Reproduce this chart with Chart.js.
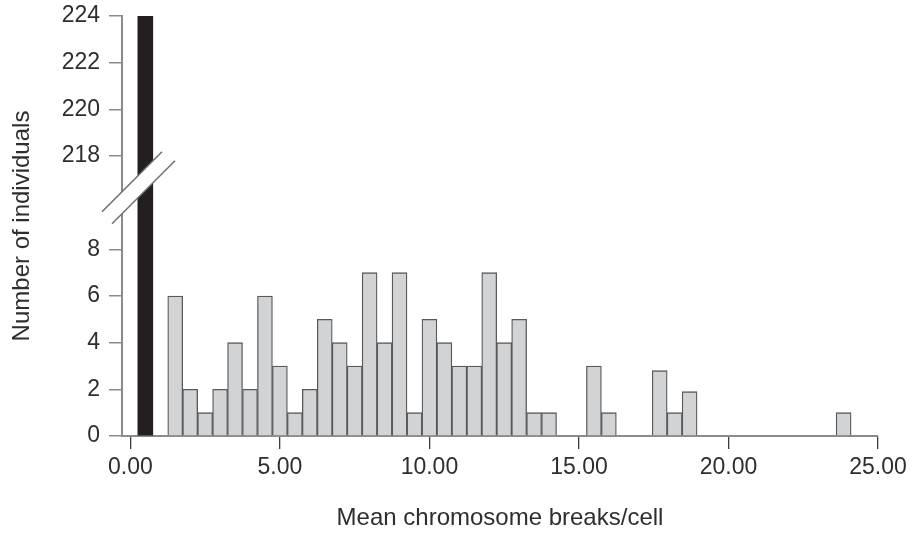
<!DOCTYPE html>
<html>
<head>
<meta charset="utf-8">
<title>Mean chromosome breaks per cell</title>
<script src="https://cdn.jsdelivr.net/npm/chart.js@4.4.1/dist/chart.umd.min.js"></script>
<style>
  html, body { margin: 0; padding: 0; background: #fff; }
  #wrap { width: 913px; height: 535px; }
</style>
</head>
<body>
<div id="wrap"><canvas id="myChart"></canvas></div>
<script>
// individuals with no breaks (black bar)
const zeroBinX = [0.5];
const zeroBinCount = [224];

// the rest of the histogram, bin centre -> number of individuals
const binX = [1.5, 2.0, 2.5, 3.0, 3.5, 4.0, 4.5, 5.0, 5.5, 6.0, 6.5, 7.0, 7.5, 8.0, 8.5,
              9.0, 9.5, 10.0, 10.5, 11.0, 11.5, 12.0, 12.5, 13.0, 13.5, 14.0,
              15.5, 16.0, 17.7, 18.2, 18.7, 23.85];
const binCount = [6, 2, 1, 2, 4, 2, 6, 3, 1, 2, 5, 4, 3, 7, 4,
                  7, 1, 5, 4, 3, 3, 7, 4, 5, 1, 1,
                  3, 1, 2.8, 1, 1.9, 1];

const xTicks = [0, 5, 10, 15, 20, 25];
const yTicks = [0, 2, 4, 6, 8, 218, 220, 222, 224];
const axisBreak = [10, 216]; // y values between these are cut out

const axisGrey = '#8a8b8d';
const textColor = '#2e2e2e';

Chart.defaults.font.family = "'Liberation Sans', Arial, sans-serif";
Chart.defaults.font.size = 23;
Chart.defaults.color = textColor;

// linear scale with a gap in it
class BrokenLinearScale extends Chart.LinearScale {
  toVirtual(v) {
    const lo = axisBreak[0], hi = axisBreak[1];
    if (v === null || v === undefined) return v;
    if (v <= lo) return v;
    if (v >= hi) return v - (hi - lo);
    return lo;
  }
  determineDataLimits() {
    super.determineDataLimits();
    this.min = this.toVirtual(this.min);
    this.max = this.toVirtual(this.max);
  }
  buildTicks() {
    return yTicks.map(v => ({ value: v }));
  }
  getPixelForValue(v) {
    return super.getPixelForValue(this.toVirtual(v));
  }
}
BrokenLinearScale.id = 'brokenLinear';
BrokenLinearScale.defaults = Chart.LinearScale.defaults;
Chart.register(BrokenLinearScale);

// the "//" marks where the axis is cut
const breakMarks = {
  id: 'breakMarks',
  afterDraw(chart) {
    const ctx = chart.ctx;
    const cx = chart.scales.x.left;
    const cy = chart.scales.y.getPixelForValue(axisBreak[0]);
    const gap = 11;
    const a1 = [cx - 20, cy - gap + 20], b1 = [cx + 40, cy - gap - 40];
    const a2 = [cx - 10, cy + gap + 10], b2 = [cx + 53, cy + gap - 53];
    ctx.save();
    ctx.fillStyle = '#fff';
    ctx.beginPath();
    ctx.moveTo(a1[0], a1[1]);
    ctx.lineTo(b1[0], b1[1]);
    ctx.lineTo(b2[0], b2[1]);
    ctx.lineTo(a2[0], a2[1]);
    ctx.closePath();
    ctx.fill();
    ctx.strokeStyle = '#6d6e71';
    ctx.lineWidth = 1.5;
    ctx.beginPath();
    ctx.moveTo(a1[0], a1[1]);
    ctx.lineTo(b1[0], b1[1]);
    ctx.moveTo(a2[0], a2[1]);
    ctx.lineTo(b2[0], b2[1]);
    ctx.stroke();
    ctx.restore();
  }
};

const ctx = document.getElementById('myChart').getContext('2d');

const myChart = new Chart(ctx, {
  type: 'bar',
  data: {
    datasets: [{
      label: 'No breaks',
      data: zeroBinX.map((x, i) => ({ x: x, y: zeroBinCount[i] })),
      backgroundColor: '#231f20',
      borderWidth: 0,
      grouped: false,
      barPercentage: 1,
      categoryPercentage: 1
    }, {
      label: 'Individuals',
      data: binX.map((x, i) => ({ x: x, y: binCount[i] })),
      backgroundColor: '#d1d3d4',
      borderColor: '#58595b',
      borderWidth: 1.3,
      grouped: false,
      barPercentage: 1,
      categoryPercentage: 1
    }]
  },
  options: {
    responsive: true,
    maintainAspectRatio: false,
    animation: false,
    layout: { padding: { top: 16, right: 35, bottom: 0, left: 0 } },
    plugins: {
      legend: { display: false },
      tooltip: { enabled: false }
    },
    scales: {
      x: {
        type: 'linear',
        position: 'bottom',
        min: -0.28,
        max: 25,
        offset: false,
        z: 1,
        afterBuildTicks: s => { s.ticks = xTicks.map(v => ({ value: v })); },
        border: { color: axisGrey, width: 2 },
        grid: { offset: false, drawOnChartArea: false, tickLength: 13, color: '#3c3c3c', lineWidth: 1.3 },
        ticks: { padding: 5, autoSkip: false, maxRotation: 0, callback: v => v.toFixed(2) },
        title: {
          display: true,
          text: 'Mean chromosome breaks/cell',
          font: { size: 24 },
          padding: { top: 17, bottom: 2.6 }
        }
      },
      y: {
        type: 'brokenLinear',
        min: 0,
        max: 224,
        afterFit: s => { s.width = 122; s.paddingTop = 0; s.paddingBottom = 0; },
        border: { color: axisGrey, width: 2 },
        grid: { drawOnChartArea: false, tickLength: 13, color: axisGrey, lineWidth: 1.5 },
        ticks: { padding: 9, autoSkip: false, callback: v => v },
        title: {
          display: true,
          text: 'Number of individuals',
          font: { size: 24 },
          padding: { top: 8, bottom: 0 }
        }
      }
    }
  },
  plugins: [breakMarks]
});
</script>
</body>
</html>
